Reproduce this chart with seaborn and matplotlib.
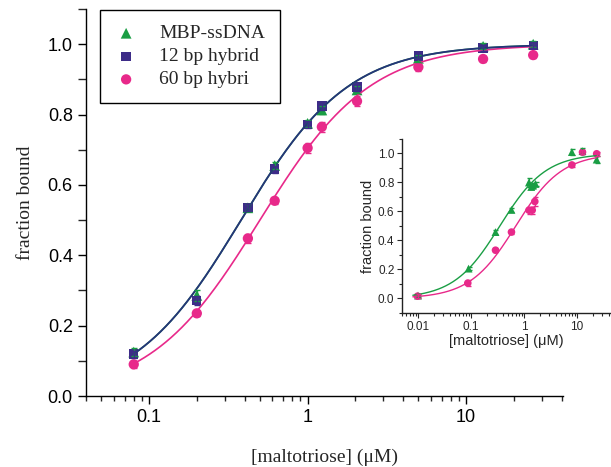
import numpy as np
import pandas as pd
import matplotlib
matplotlib.use("Agg")
import matplotlib.pyplot as plt
from matplotlib.ticker import MultipleLocator, LogLocator, FuncFormatter, NullFormatter
import seaborn as sns

# ---------------- data (main panel) ----------------
conc_main = [0.08, 0.2, 0.42, 0.62, 1.0, 1.23, 2.05, 5.0, 12.8, 26.5]
mbp_main = [0.125, 0.286, 0.535, 0.655, 0.775, 0.813, 0.870, 0.960, 0.994, 1.000]
mbp_err = [0.012, 0.015, 0.010, 0.010, 0.010, 0.010, 0.010, 0.010, 0.008, 0.008]
hyb12_main = [0.119, 0.272, 0.535, 0.645, 0.772, 0.824, 0.878, 0.966, 0.989, 0.997]
hyb12_err = [0.010, 0.012, 0.010, 0.010, 0.010, 0.010, 0.010, 0.008, 0.008, 0.008]
hyb60_main = [0.090, 0.235, 0.448, 0.555, 0.705, 0.765, 0.838, 0.935, 0.958, 0.969]
hyb60_err = [0.010, 0.008, 0.012, 0.008, 0.015, 0.015, 0.015, 0.012, 0.008, 0.008]

# Hill-fit parameters (K, n)
fit_mbp = (0.38, 1.28)
fit_12 = (0.38, 1.28)
fit_60 = (0.50, 1.25)

# ---------------- data (inset) ----------------
conc_in_mbp = [0.01, 0.09, 0.29, 0.58, 1.24, 1.37, 1.47, 1.65, 8.0, 12.7, 23.5]
mbp_in = [0.02, 0.206, 0.458, 0.611, 0.800, 0.769, 0.778, 0.790, 1.010, 1.016, 0.958]
mbp_in_err = [0.01, 0.012, 0.015, 0.012, 0.03, 0.015, 0.015, 0.015, 0.02, 0.02, 0.025]
conc_in_60 = [0.0098, 0.087, 0.29, 0.58, 1.24, 1.43, 1.6, 8.0, 12.7, 23.5]
hyb60_in = [0.016, 0.106, 0.333, 0.458, 0.609, 0.609, 0.669, 0.921, 1.009, 0.998]
hyb60_in_err = [0.012, 0.02, 0.015, 0.012, 0.025, 0.025, 0.03, 0.012, 0.015, 0.012]
fit_in_mbp = (0.35, 1.0)
fit_in_60 = (0.70, 1.0)

labels = ["MBP-ssDNA", "12 bp hybrid", "60 bp hybri"]
c_green = "#1a9e44"
c_navy = "#3d2c88"
c_navy_line = "#26337a"
c_pink = "#e8298a"


def hill(x, p):
    k, n = p
    x = np.asarray(x)
    return x ** n / (k ** n + x ** n)


sns.set_style("ticks")
plt.rcParams["font.family"] = ["Liberation Sans", "DejaVu Sans"]

fig = plt.figure(figsize=(6.11, 4.67), dpi=100)
ax = fig.add_axes([0.1408, 0.152, 0.781, 0.8287])

xs = np.logspace(np.log10(conc_main[0]), np.log10(conc_main[-1]), 300)
sns.lineplot(x=xs, y=hill(xs, fit_mbp), ax=ax, color=c_green, lw=1.2, legend=False)
sns.lineplot(x=xs, y=hill(xs, fit_60), ax=ax, color=c_pink, lw=1.2, legend=False)
sns.lineplot(x=xs, y=hill(xs, fit_12), ax=ax, color=c_navy_line, lw=1.3, legend=False)

for y, e, c in [(hyb60_main, hyb60_err, c_pink), (mbp_main, mbp_err, c_green), (hyb12_main, hyb12_err, c_navy)]:
    ax.errorbar(conc_main, y, yerr=e, fmt="none", ecolor=c, elinewidth=1, capsize=2.5, capthick=1)

df60 = pd.DataFrame({"x": conc_main, "y": hyb60_main})
dfm = pd.DataFrame({"x": conc_main, "y": mbp_main})
df12 = pd.DataFrame({"x": conc_main, "y": hyb12_main})
sns.scatterplot(data=df60, x="x", y="y", ax=ax, color=c_pink, marker="o", s=55, edgecolor="none", label=labels[2])
sns.scatterplot(data=dfm, x="x", y="y", ax=ax, color=c_green, marker="^", s=60, edgecolor="none", label=labels[0])
sns.scatterplot(data=df12, x="x", y="y", ax=ax, color=c_navy, marker="s", s=45, edgecolor="none", label=labels[1])

ax.set_xscale("log")
ax.set_xlim(0.04, 41)
ax.set_ylim(0, 1.1)
ax.yaxis.set_major_locator(MultipleLocator(0.2))
ax.yaxis.set_minor_locator(MultipleLocator(0.1))
ax.yaxis.set_major_formatter(FuncFormatter(lambda v, p: f"{v:.1f}"))
ax.xaxis.set_major_locator(LogLocator(base=10, numticks=10))
ax.xaxis.set_minor_locator(LogLocator(base=10, subs=np.arange(2, 10), numticks=20))
ax.xaxis.set_major_formatter(FuncFormatter(lambda v, p: f"{v:g}"))
ax.xaxis.set_minor_formatter(NullFormatter())
ax.tick_params(axis="both", which="major", direction="out", length=6, width=1, labelsize=13, colors="black")
ax.tick_params(axis="y", which="minor", direction="out", length=6, width=1)
ax.tick_params(axis="x", which="minor", direction="out", length=3.5, width=1)
for s in ["top", "right"]:
    ax.spines[s].set_visible(False)
for s in ["left", "bottom"]:
    ax.spines[s].set_color("black")
    ax.spines[s].set_linewidth(1)
ax.set_xlabel("[maltotriose] (μM)", family=["Liberation Serif", "DejaVu Serif"], fontsize=14, labelpad=16)
ax.set_ylabel("fraction bound", family=["Liberation Serif", "DejaVu Serif"], fontsize=14, labelpad=10)

handles, labs = ax.get_legend_handles_labels()
order = [labs.index(l) for l in labels]
leg = ax.legend([handles[i] for i in order], [labs[i] for i in order],
                loc="upper left", bbox_to_anchor=(0.029, 0.997), borderaxespad=0,
                frameon=True, fancybox=False, edgecolor="black", framealpha=1,
                prop={"family": ["Liberation Serif"], "size": 14},
                handlelength=1.2, handletextpad=1.1, borderpad=0.75, labelspacing=0.28,
                markerscale=1.0)
leg.get_frame().set_linewidth(1)

# ---------------- inset ----------------
ins = fig.add_axes([0.658, 0.3298, 0.3404, 0.3726])
ins.set_facecolor("white")
xi = np.logspace(np.log10(0.008), np.log10(25), 300)
sns.lineplot(x=xi, y=hill(xi, fit_in_mbp), ax=ins, color=c_green, lw=1.0, legend=False)
sns.lineplot(x=xi, y=hill(xi, fit_in_60), ax=ins, color=c_pink, lw=1.0, legend=False)
ins.errorbar(conc_in_mbp, mbp_in, yerr=mbp_in_err, fmt="none", ecolor=c_green, elinewidth=0.9, capsize=1.8)
ins.errorbar(conc_in_60, hyb60_in, yerr=hyb60_in_err, fmt="none", ecolor=c_pink, elinewidth=0.9, capsize=1.8)
sns.scatterplot(x=conc_in_mbp, y=mbp_in, ax=ins, color=c_green, marker="^", s=32, edgecolor="none", legend=False)
sns.scatterplot(x=conc_in_60, y=hyb60_in, ax=ins, color=c_pink, marker="o", s=30, edgecolor="none", legend=False)
ins.set_xscale("log")
ins.set_xlim(0.005, 42)
ins.set_ylim(-0.1, 1.1)
ins.yaxis.set_major_locator(MultipleLocator(0.2))
ins.yaxis.set_minor_locator(MultipleLocator(0.1))
ins.yaxis.set_major_formatter(FuncFormatter(lambda v, p: f"{v:.1f}" if v > -0.05 and v < 1.05 else ""))
ins.xaxis.set_major_locator(LogLocator(base=10, numticks=10))
ins.xaxis.set_minor_locator(LogLocator(base=10, subs=np.arange(2, 10), numticks=20))
ins.xaxis.set_major_formatter(FuncFormatter(lambda v, p: f"{v:g}"))
ins.xaxis.set_minor_formatter(NullFormatter())
ins.tick_params(axis="both", which="major", direction="out", length=3.5, width=0.8, labelsize=8.5, pad=2)
ins.tick_params(axis="both", which="minor", direction="out", length=2, width=0.8)
for s in ["top", "right"]:
    ins.spines[s].set_visible(False)
for s in ["left", "bottom"]:
    ins.spines[s].set_color("#222222")
    ins.spines[s].set_linewidth(1)
ins.set_xlabel("[maltotriose] (μM)", fontsize=10.5, labelpad=1)
ins.set_ylabel("fraction bound", fontsize=10.5, labelpad=2)

fig.savefig("out.png", dpi=100)
